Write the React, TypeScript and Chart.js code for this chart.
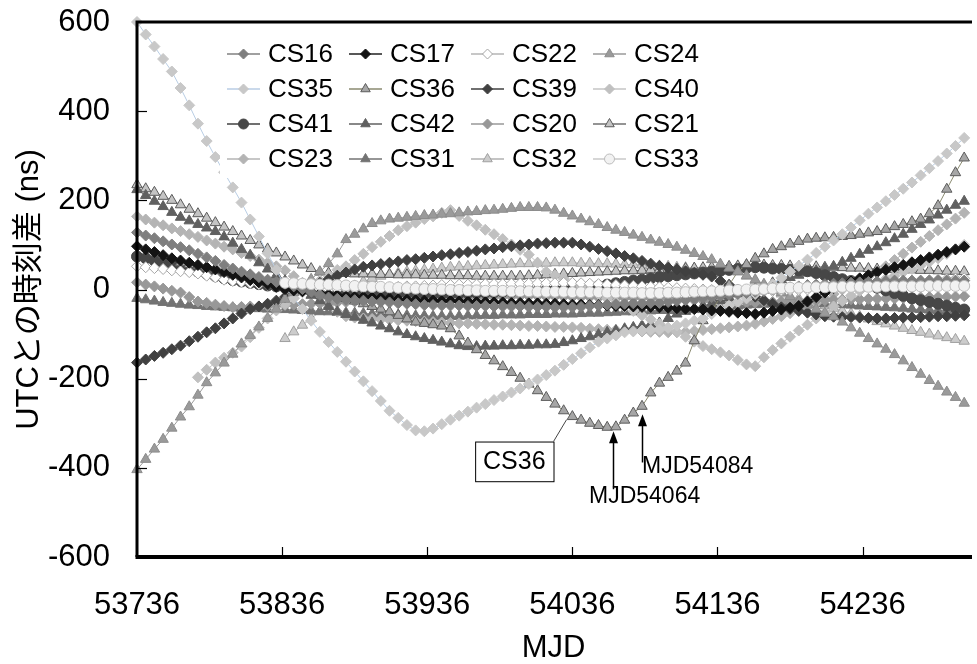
import React, { useEffect, useRef } from "react";
import { Chart, registerables } from "chart.js";
import { drawPoint } from "chart.js/helpers";

Chart.register(...registerables);

const FONT = "'Liberation Sans', Arial, 'Noto Sans CJK JP', sans-serif";

// MJD sample dates
const MJD = [
  53736, 53742, 53748, 53754, 53760, 53766, 53772, 53778, 53784, 53790,
  53796, 53802, 53808, 53814, 53820, 53826, 53832, 53838, 53844, 53850,
  53856, 53862, 53868, 53874, 53880, 53886, 53892, 53898, 53904, 53910,
  53916, 53922, 53928, 53934, 53940, 53946, 53952, 53958, 53964, 53970,
  53976, 53982, 53988, 53994, 54000, 54006, 54012, 54018, 54024, 54030,
  54036, 54042, 54048, 54054, 54060, 54066, 54072, 54078, 54084, 54090,
  54096, 54102, 54108, 54114, 54120, 54126, 54132, 54138, 54144, 54150,
  54156, 54162, 54168, 54174, 54180, 54186, 54192, 54198, 54204, 54210,
  54216, 54222, 54228, 54234, 54240, 54246, 54252, 54258, 54264, 54270,
  54276, 54282, 54288, 54294, 54300, 54306,
];

const X_TICKS = [53736, 53836, 53936, 54036, 54136, 54236];
const Y_TICKS = [-600, -400, -200, 0, 200, 400, 600];

const CS16 = [
  128, 121, 115, 108, 101, 95, 88, 80, 72, 64,
  55, 47, 40, 34, 28, 22, 17, 13, 7, 1,
  -6, -12, -18, -21, -23, -24, -25, -27, -28, -29,
  -31, -32, -33, -35, -35, -36, -36, -36, -37, -37,
  -37, -38, -38, -38, -38, -39, -39, -39, -40, -40,
  -40, -39, -37, -36, -34, -33, -32, -31, -31, -30,
  -30, -28, -26, -24, -21, -19, -17, -15, -12, -10,
  -8, -5, -3, 0, 2, 5, 7, 10, 11, 12,
  13, 14, 15, 16, 17, 18, 19, 20, 20, 20,
  20, 20, 20, 20, 20, 20,
];
const CS17 = [
  97, 90, 84, 77, 70, 65, 60, 55, 50, 45,
  39, 33, 27, 21, 16, 11, 6, 1, -2, -4,
  -6, -9, -11, -13, -15, -16, -17, -18, -19, -20,
  -22, -23, -24, -25, -25, -26, -26, -27, -27, -28,
  -28, -29, -29, -30, -30, -31, -31, -32, -32, -33,
  -34, -34, -35, -35, -36, -37, -37, -38, -39, -39,
  -40, -41, -42, -43, -44, -45, -47, -48, -50, -52,
  -53, -55, -52, -48, -45, -41, -37, -27, -17, -7,
  3, 10, 18, 25, 32, 39, 44, 50, 55, 61,
  66, 72, 78, 84, 90, 96,
];
const CS22 = [
  52, 50, 48, 46, 43, 41, 39, 36, 31, 27,
  22, 19, 17, 14, 12, 10, 7, 5, 4, 3,
  2, 1, 0, 1, 2, 2, 3, 4, 4, 5,
  6, 7, 7, 8, 9, 10, 10, 11, 11, 11,
  12, 12, 12, 13, 13, 13, 14, 14, 14, 15,
  15, 14, 13, 12, 11, 10, 9, 8, 7, 6,
  5, 4, 3, 2, 1, 0, -1, -2, -4, -5,
  -4, -4, -3, -3, -2, -1, -1, 0, 2, 3,
  5, 7, 8, 10, 12, 13, 15, 16, 17, 18,
  19, 21, 22, 23, 24, 25,
];
const CS24 = [
  -404, -381, -358, -336, -311, -286, -263, -237, -209, -187,
  -165, -145, -122, -103, -84, -65, -44, -22, -7, 8,
  23, 40, 58, 80, 112, 124, 136, 148, 154, 158,
  160, 162, 164, 166, 167, 169, 170, 172, 174, 175,
  177, 178, 180, 182, 184, 184, 184, 183, 178, 171,
  165, 158, 152, 146, 139, 133, 128, 122, 117, 111,
  106, 101, 95, 88, 81, 74, 67, 57, 48, 40,
  31, 22, 12, 3, -7, -16, -26, -35, -44, -53,
  -61, -73, -86, -98, -110, -122, -134, -146, -160, -175,
  -190, -204, -217, -230, -242, -255,
];
const CS35 = [
  600, 572, 545, 517, 489, 452, 413, 372, 333, 297,
  263, 229, 195, 157, 119, 81, 44, 7, -19, -44,
  -70, -95, -118, -140, -162, -184, -206, -228, -250, -272,
  -288, -304, -316, -318, -312, -302, -292, -283, -274, -265,
  -257, -248, -240, -231, -222, -212, -202, -192, -182, -169,
  -156, -143, -130, -117, -110, -103, -96, -94, -92, -91,
  -90, -86, -81, -76, -70, -65, -55, -45, -36, -28,
  -20, -10, 0, 12, 26, 40, 53, 67, 82, 96,
  110, 124, 139, 155, 170, 184, 198, 212, 226, 240,
  256, 272, 288, 305, 322, 340,
];
const CS36 = [
  null, null, null, null, null, 60, 56, 53, 49, 45,
  40, 35, 30, 25, 20, 16, 12, 8, 4, 0,
  -4, -8, -12, -16, -20, -26, -32, -38, -44, -50,
  -58, -66, -73, -76, -79, -82, -88, -104, -120, -135,
  -148, -160, -173, -186, -199, -212, -227, -242, -257, -272,
  -285, -293, -300, -305, -309, -308, -293, -277, -262, -232,
  -210, -197, -183, -165, -115, -70, -47, -18, 10, 40,
  56, 70, 80, 90, 96, 102, 108, 113, 115, 116,
  117, 119, 121, 124, 127, 130, 135, 141, 146, 152,
  158, 170, 188, 225, 262, 295,
];
const CS39 = [
  -164, -157, -149, -142, -134, -126, -116, -106, -96, -87,
  -76, -65, -54, -44, -38, -32, -25, -17, -9, -1,
  7, 15, 23, 31, 38, 45, 51, 54, 57, 60,
  63, 66, 68, 71, 74, 77, 79, 82, 84, 87,
  90, 92, 95, 97, 99, 101, 103, 104, 105, 105,
  105, 101, 96, 91, 86, 81, 75, 70, 64, 58,
  53, 49, 45, 41, 37, 33, 29, 19, 10, 0,
  -8, -16, -24, -32, -40, -44, -48, -52, -56, -60,
  -61, -62, -62, -63, -64, -65, -65, -64, -63, -63,
  -62, -61, -60, -60, -59, -58,
];
const CS40 = [
  null, null, null, null, null, null, null, -197, -180, -164,
  -153, -142, -128, -107, -86, -65, -47, -33, -20, -6,
  7, 20, 32, 44, 52, 66, 80, 95, 107, 120,
  133, 142, 150, 158, 164, 172, 178, 165, 154, 144,
  134, 124, 113, 101, 89, 78, 60, 40, 32, 24,
  15, 7, -2, -10, -20, -29, -39, -48, -58, -67,
  -77, -86, -95, -106, -117, -127, -134, -141, -148, -158,
  -168, -172, -152, -136, -121, -106, -92, -79, -65, -51,
  -38, -26, -14, -3, 7, 16, 24, 31, 39, 46,
  54, 62, 70, 80, 90, 100,
];
const CS41 = [
  74, 70, 65, 60, 55, 50, 45, 40, 35, 30,
  25, 21, 18, 15, 12, 9, 7, 4, 2, 0,
  -1, -2, -3, -3, -4, -5, -5, -6, -7, -7,
  -8, -8, -9, -9, -10, -10, -10, -9, -8, -8,
  -7, -6, -5, -5, -4, -3, -3, -2, -1, -1,
  0, 3, 5, 8, 11, 14, 17, 20, 22, 25,
  28, 30, 32, 34, 36, 38, 40, 42, 44, 46,
  48, 50, 49, 47, 46, 44, 43, 41, 37, 32,
  28, 23, 19, 14, 10, 4, -2, -8, -14, -20,
  -24, -28, -32, -36, -41, -45,
];
const CS42 = [
  224, 211, 198, 186, 173, 162, 154, 146, 138, 130,
  118, 104, 90, 77, 60, 46, 32, 20, 9, -2,
  -13, -25, -38, -50, -56, -62, -69, -75, -82, -88,
  -95, -101, -106, -110, -114, -118, -122, -126, -128, -128,
  -127, -127, -126, -126, -125, -125, -124, -124, -123, -119,
  -115, -110, -106, -101, -96, -92, -88, -85, -81, -78,
  -75, -65, -55, -49, -43, -37, -31, -25, -18, -10,
  -4, 3, 9, 15, 22, 27, 32, 37, 42, 47,
  52, 61, 70, 79, 88, 96, 105, 114, 124, 135,
  146, 156, 167, 178, 189, 198,
];
const CS20 = [
  16, 11, 7, 2, -3, -7, -17, -27, -30, -34,
  -37, -40, -39, -38, -38, -37, -36, -35, -34, -33,
  -32, -31, -30, -29, -28, -27, -26, -25, -24, -24,
  -23, -23, -22, -21, -21, -20, -20, -19, -19, -18,
  -17, -17, -16, -16, -15, -15, -15, -16, -16, -16,
  -17, -17, -17, -18, -18, -18, -19, -19, -19, -20,
  -20, -20, -21, -22, -24, -25, -26, -27, -29, -30,
  -29, -29, -28, -28, -27, -26, -26, -25, -24, -24,
  -23, -23, -22, -22, -21, -21, -20, -20, -19, -18,
  -18, -17, -17, -16, -16, -15,
];
const CS21 = [
  235, 226, 218, 209, 200, 190, 180, 170, 160, 150,
  140, 130, 120, 110, 100, 91, 82, 73, 64, 55,
  47, 39, 37, 36, 36, 35, 35, 35, 34, 34,
  33, 33, 33, 32, 32, 32, 31, 31, 31, 30,
  30, 30, 30, 30, 30, 31, 32, 33, 34, 35,
  36, 37, 38, 39, 40, 41, 42, 42, 43, 44,
  44, 45, 46, 47, 48, 49, 50, 51, 52, 53,
  54, 55, 55, 54, 54, 53, 52, 52, 51, 50,
  50, 49, 48, 48, 47, 46, 45, 45, 44, 44,
  43, 43, 42, 41, 41, 40,
];
const CS23 = [
  164, 157, 150, 144, 137, 131, 124, 118, 110, 103,
  96, 90, 82, 75, 67, 60, 52, 43, 30, 15,
  0, -18, -35, -50, -60, -63, -65, -66, -67, -68,
  -69, -70, -71, -72, -73, -74, -75, -76, -76, -77,
  -78, -79, -79, -80, -81, -82, -82, -83, -84, -84,
  -85, -86, -88, -89, -90, -91, -92, -93, -94, -95,
  -95, -96, -96, -95, -93, -91, -89, -87, -85, -83,
  -81, -77, -72, -66, -60, -53, -46, -40, -30, -20,
  -10, 0, 10, 20, 29, 38, 52, 66, 80, 94,
  107, 120, 133, 146, 159, 172,
];
const CS31 = [
  -20, -23, -26, -29, -31, -33, -35, -36, -38, -39,
  -40, -41, -42, -42, -43, -44, -45, -45, -46, -47,
  -48, -49, -50, -51, -52, -53, -54, -55, -56, -56,
  -57, -58, -59, -59, -60, -60, -60, -60, -59, -59,
  -58, -58, -57, -57, -57, -56, -56, -56, -55, -55,
  -55, -54, -53, -53, -52, -51, -50, -50, -49, -48,
  -47, -47, -46, -45, -45, -43, -41, -40, -38, -37,
  -35, -34, -33, -32, -31, -30, -30, -30, -31, -32,
  -33, -34, -35, -37, -38, -39, -40, -41, -42, -44,
  -45, -46, -47, -48, -49, -50,
];
const CS32 = [
  null, null, null, null, null, null, null, null, null, null,
  null, null, null, null, null, null, null, -110, -95, -80,
  -65, -50, -35, -20, -5, 8, 18, 25, 30, 34,
  37, 40, 42, 44, 46, 48, 50, 51, 52, 53,
  54, 55, 56, 57, 58, 58, 59, 59, 60, 60,
  60, 59, 59, 58, 58, 57, 56, 56, 55, 54,
  53, 52, 50, 49, 47, 46, 44, 43, 41, 40,
  30, 19, 8, -2, -10, -15, -20, -25, -30, -36,
  -42, -48, -54, -60, -66, -72, -77, -82, -87, -92,
  -96, -100, -104, -108, -112, -116,
];
const CS33 = [
  null, null, null, null, null, null, null, null, null, null,
  null, null, null, null, null, null, null, 15, 14, 13,
  12, 11, 11, 10, 9, 8, 7, 6, 6, 5,
  4, 3, 2, 1, 1, 0, -1, -1, -2, -2,
  -3, -3, -3, -4, -4, -4, -5, -5, -5, -5,
  -6, -6, -6, -6, -7, -7, -7, -7, -8, -8,
  -8, -7, -7, -6, -5, -4, -4, -3, -2, -1,
  0, 0, 1, 2, 3, 4, 4, 5, 5, 5,
  5, 6, 6, 6, 6, 6, 7, 7, 7, 7,
  7, 8, 8, 8, 8, 8,
];

// series in legend order with their marker styles
const SERIES = [
  { name: "CS16", values: CS16, shape: "rectRot", fill: "#7f7f7f", edge: "#7f7f7f", line: "#808080", r: 5.5 },
  { name: "CS17", values: CS17, shape: "rectRot", fill: "#141414", edge: "#141414", line: "#202020", r: 5.5 },
  { name: "CS22", values: CS22, shape: "rectRot", fill: "#ffffff", edge: "#a6a6a6", line: "#b4b4b4", r: 5.5 },
  { name: "CS24", values: CS24, shape: "triangle", fill: "#9a9a9a", edge: "#8c8c8c", line: "#9a9a9a", r: 6 },
  { name: "CS35", values: CS35, shape: "rectRot", fill: "#c8c8c8", edge: "#c8c8c8", line: "#b8cde4", r: 5.5 },
  { name: "CS36", values: CS36, shape: "triangle", fill: "#a6a6a6", edge: "#5c5c5c", line: "#8a8a70", r: 6 },
  { name: "CS39", values: CS39, shape: "rectRot", fill: "#404040", edge: "#404040", line: "#404040", r: 5.5 },
  { name: "CS40", values: CS40, shape: "rectRot", fill: "#c0c0c0", edge: "#c0c0c0", line: "#c4c4c4", r: 5.5 },
  { name: "CS41", values: CS41, shape: "circle", fill: "#474747", edge: "#474747", line: "#404040", r: 5.5 },
  { name: "CS42", values: CS42, shape: "triangle", fill: "#606060", edge: "#606060", line: "#606060", r: 6 },
  { name: "CS20", values: CS20, shape: "rectRot", fill: "#989898", edge: "#989898", line: "#989898", r: 5.5 },
  { name: "CS21", values: CS21, shape: "triangle", fill: "#c4c4c4", edge: "#5a5a5a", line: "#707070", r: 6 },
  { name: "CS23", values: CS23, shape: "rectRot", fill: "#b4b4b4", edge: "#b4b4b4", line: "#b4b4b4", r: 5.5 },
  { name: "CS31", values: CS31, shape: "triangle", fill: "#737373", edge: "#737373", line: "#737373", r: 6 },
  { name: "CS32", values: CS32, shape: "triangle", fill: "#cccccc", edge: "#a0a0a0", line: "#b0b0b0", r: 6 },
  { name: "CS33", values: CS33, shape: "circle", fill: "#f2f2f2", edge: "#bdbdbd", line: "#c8c8c8", r: 5.5 },
];

const overlayPlugin = {
  id: "overlay",
  afterDatasetsDraw(chart: any) {
    const { ctx, chartArea: a } = chart;
    const xs = chart.scales.x;
    const ys = chart.scales.y;
    const px = (m: number) => xs.getPixelForValue(m);
    const py = (v: number) => ys.getPixelForValue(v);
    ctx.save();

    // legend (white box inside the plot)
    ctx.fillStyle = "#ffffff";
    ctx.fillRect(a.left + 83, a.top + 14, 492, 142);
    chart.data.datasets.forEach((ds: any, i: number) => {
      const col = i % 4;
      const row = Math.floor(i / 4);
      const lx = a.left + 90 + col * 122;
      const ly = a.top + 32 + row * 35;
      ctx.strokeStyle = ds.borderColor;
      ctx.lineWidth = 1.3;
      ctx.beginPath();
      ctx.moveTo(lx, ly);
      ctx.lineTo(lx + 33, ly);
      ctx.stroke();
      ctx.fillStyle = ds.pointBackgroundColor;
      ctx.strokeStyle = ds.pointBorderColor;
      ctx.lineWidth = 1;
      drawPoint(ctx, { pointStyle: ds.pointStyle, radius: ds.pointRadius - 0.5, borderWidth: 1, rotation: 0 } as any, lx + 16.5, ly);
      ctx.fillStyle = "#000";
      ctx.font = `26px ${FONT}`;
      ctx.textAlign = "left";
      ctx.textBaseline = "middle";
      ctx.fillText(ds.label, lx + 41, ly + 1);
    });

    // CS36 annotation box and leader
    const bx1 = px(53969), bx2 = px(54023), by1 = py(-341), by2 = py(-430);
    ctx.fillStyle = "#fff";
    ctx.fillRect(bx1, by1, bx2 - bx1, by2 - by1);
    ctx.strokeStyle = "#000";
    ctx.lineWidth = 1;
    ctx.strokeRect(bx1 + 0.5, by1 + 0.5, bx2 - bx1, by2 - by1);
    ctx.fillStyle = "#000";
    ctx.font = `25px ${FONT}`;
    ctx.textAlign = "center";
    ctx.textBaseline = "middle";
    ctx.fillText("CS36", (bx1 + bx2) / 2, (by1 + by2) / 2 + 1);
    ctx.strokeStyle = "#444";
    ctx.beginPath();
    ctx.moveTo(bx2, by1);
    ctx.lineTo(px(54032), py(-292));
    ctx.stroke();

    // arrows
    const arrow = (m: number, tail: number, tip: number) => {
      const x = Math.round(px(m)) + 0.5;
      const yt = py(tip);
      ctx.strokeStyle = "#000";
      ctx.lineWidth = 1.5;
      ctx.beginPath();
      ctx.moveTo(x, py(tail));
      ctx.lineTo(x, yt + 10);
      ctx.stroke();
      ctx.fillStyle = "#000";
      ctx.beginPath();
      ctx.moveTo(x, yt);
      ctx.lineTo(x - 4.5, yt + 12);
      ctx.lineTo(x + 4.5, yt + 12);
      ctx.closePath();
      ctx.fill();
    };
    arrow(54064, -448, -318);
    arrow(54084, -388, -280);
    ctx.font = `23px ${FONT}`;
    ctx.textAlign = "left";
    ctx.textBaseline = "middle";
    ctx.fillText("MJD54064", px(54064) - 24, py(-464));
    ctx.fillText("MJD54084", px(54084), py(-397));

    // frame
    ctx.strokeStyle = "#000";
    ctx.lineWidth = 3;
    ctx.beginPath();
    ctx.moveTo(a.left, a.bottom);
    ctx.lineTo(a.left, a.top);
    ctx.lineTo(a.right + 2, a.top);
    ctx.stroke();
    ctx.lineWidth = 4;
    ctx.beginPath();
    ctx.moveTo(a.left - 1.5, a.bottom);
    ctx.lineTo(a.right + 2, a.bottom);
    ctx.stroke();

    // inward ticks
    ctx.lineWidth = 1.2;
    X_TICKS.slice(1).forEach((m) => {
      const x = Math.round(px(m)) + 0.5;
      ctx.beginPath();
      ctx.moveTo(x, a.bottom);
      ctx.lineTo(x, a.bottom - 10);
      ctx.stroke();
    });
    Y_TICKS.slice(1, -1).forEach((v) => {
      const y = Math.round(py(v)) + 0.5;
      ctx.beginPath();
      ctx.moveTo(a.left, y);
      ctx.lineTo(a.left + 10, y);
      ctx.stroke();
    });
    ctx.restore();
  },
};

export default function App() {
  const ref = useRef<HTMLCanvasElement | null>(null);

  useEffect(() => {
    if (!ref.current) return;
    const chart = new Chart(ref.current, {
      type: "line",
      data: {
        datasets: SERIES.map((s) => ({
          label: s.name,
          data: MJD.map((m, i) => ({ x: m, y: s.values[i] })),
          borderColor: s.line,
          backgroundColor: s.fill,
          pointBackgroundColor: s.fill,
          pointBorderColor: s.edge,
          pointStyle: s.shape as any,
          pointRadius: s.r,
          pointBorderWidth: 1,
          borderWidth: 1,
          tension: 0,
          clip: false as any,
          order: s.name === "CS33" ? -1 : 0,
        })),
      },
      options: {
        animation: false,
        responsive: false,
        maintainAspectRatio: false,
        layout: { padding: { top: 22, right: 0, bottom: 0, left: 0 } },
        plugins: { legend: { display: false }, tooltip: { enabled: false } },
        scales: {
          x: {
            type: "linear",
            min: 53736,
            max: 54310,
            afterBuildTicks: (s: any) => {
              s.ticks = X_TICKS.map((v) => ({ value: v }));
            },
            afterFit: (s: any) => {
              s.height = 107;
              s.paddingLeft = 0;
              s.paddingRight = 0;
            },
            grid: { display: false, drawTicks: false },
            border: { display: false },
            ticks: {
              color: "#000",
              font: { family: FONT, size: 31 },
              padding: 30,
              maxRotation: 0,
              autoSkip: false,
              callback: (v: any) => String(v),
            },
            title: {
              display: true,
              text: "MJD",
              color: "#000",
              font: { family: FONT, size: 31, lineHeight: 1 },
              padding: { top: 0, bottom: 0 },
            },
          },
          y: {
            type: "linear",
            min: -600,
            max: 600,
            afterBuildTicks: (s: any) => {
              s.ticks = Y_TICKS.map((v) => ({ value: v }));
            },
            afterFit: (s: any) => {
              s.width = 137;
              s.paddingTop = 0;
              s.paddingBottom = 0;
            },
            grid: { display: false, drawTicks: false },
            border: { display: false },
            ticks: {
              color: "#000",
              font: { family: FONT, size: 31 },
              padding: 27,
              callback: (v: any) => String(v),
            },
            title: {
              display: true,
              text: "UTCとの時刻差 (ns)",
              color: "#000",
              font: { family: FONT, size: 31 },
              padding: { top: 11, bottom: 0 },
            },
          },
        },
      },
      plugins: [overlayPlugin],
    });
    return () => chart.destroy();
  }, []);

  return (
    <div style={{ position: "fixed", left: 0, top: 0, width: 977, height: 664, background: "#fff" }}>
      <canvas ref={ref} width={977} height={664} style={{ display: "block" }} />
    </div>
  );
}
